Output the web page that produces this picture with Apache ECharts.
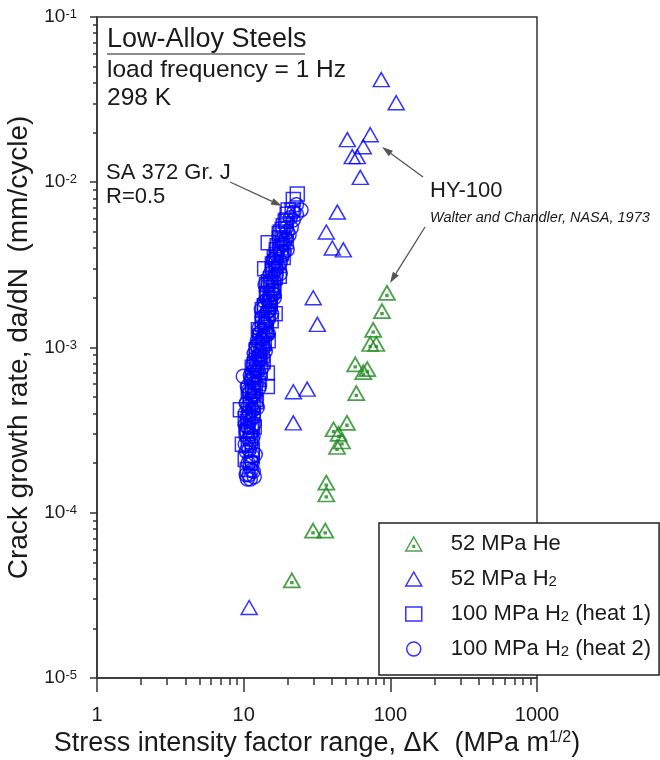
<!DOCTYPE html>
<html>
<head>
<meta charset="utf-8">
<script src="https://cdn.jsdelivr.net/npm/echarts@6/dist/echarts.min.js"></script>
<style>
  html, body { margin: 0; padding: 0; background: #fff; }
  #chart { width: 660px; height: 760px; }
</style>
</head>
<body>
<div id="chart"></div>
<script>
/* ΔK (MPa m^1/2), da/dN (mm/cycle) */
const he52 = [
  [94.8, 0.00214], [87.7, 0.00166], [76.4, 0.00128], [72.9, 0.00105], [80.2, 0.00105],
  [57.6, 0.00079], [65.4, 0.00071], [69.6, 0.00074], [58.6, 0.00053], [50.6, 0.00035],
  [41.0, 0.00032], [44.4, 0.00030], [46.8, 0.00027], [43.3, 0.00025], [36.6, 0.000152],
  [36.6, 0.000129], [29.7, 0.000078], [36.0, 0.000078], [21.3, 0.000039]
];
const h2_52 = [
  [86.7, 0.0418], [109.7, 0.0303], [50.9, 0.0181], [72.9, 0.0194], [65.4, 0.0164],
  [55.0, 0.0143], [59.5, 0.0143], [62.4, 0.0107], [43.5, 0.0066], [36.6, 0.0050],
  [40.2, 0.0040], [47.8, 0.0039], [29.8, 0.0020], [31.8, 0.00138], [21.8, 0.00054],
  [27.1, 0.00056], [21.8, 0.00035], [10.9, 0.0000267]
];
const h2_100_heat1 = [
  [23.2, 0.0085], [21.8, 0.00785], [20.1, 0.0068], [21.4, 0.0068], [19.8, 0.0064],
  [19.2, 0.0058], [18.3, 0.0052], [17.5, 0.0046], [14.7, 0.0043], [17.8, 0.0040],
  [16.7, 0.00365], [16.4, 0.0033], [13.9, 0.0030], [15.9, 0.0029], [15.2, 0.0026],
  [15.4, 0.0023], [14.3, 0.0021], [15.0, 0.0019], [13.9, 0.00175], [16.4, 0.0016],
  [14.3, 0.00152], [13.4, 0.00138], [14.0, 0.00125], [12.8, 0.00115], [13.4, 0.00104],
  [12.2, 0.00095], [12.8, 0.00087], [11.8, 0.00079], [14.5, 0.00070], [11.45, 0.00066],
  [14.5, 0.00058], [12.0, 0.00056], [11.1, 0.00051], [11.6, 0.00045], [9.5, 0.00042],
  [10.75, 0.00038], [11.45, 0.00034], [10.4, 0.00031], [11.1, 0.00028], [9.8, 0.00026],
  [19.5, 0.0059], [17.8, 0.0050], [18.9, 0.0046], [16.7, 0.0039], [18.6, 0.0035],
  [15.7, 0.0032], [17.5, 0.0027], [14.3, 0.0024], [16.1, 0.0022], [15.2, 0.00195],
  [13.4, 0.0017], [15.4, 0.00145], [12.6, 0.00128], [14.7, 0.00110], [12.2, 0.00097],
  [13.6, 0.00082], [11.45, 0.00076], [12.8, 0.00064], [10.75, 0.00055], [12.2, 0.00047],
  [10.25, 0.00037], [11.8, 0.00033], [10.6, 0.00030], [11.45, 0.00024], [10.25, 0.00021],
  [11.1, 0.00020],
  [18.62, 0.00546], [17.49, 0.00489], [19.52, 0.00437], [16.94, 0.00413], [18.05, 0.00370],
  [16.17, 0.00350], [17.49, 0.00313], [15.67, 0.00296], [16.42, 0.00265], [14.72, 0.00250],
  [15.92, 0.00230], [14.49, 0.00212], [15.18, 0.00184], [13.82, 0.00179], [14.72, 0.00160],
  [13.39, 0.00148], [14.26, 0.00128], [12.98, 0.00118], [13.82, 0.00106], [12.58, 0.000999],
  [13.39, 0.000893], [12.38, 0.000799], [12.98, 0.000715], [11.81, 0.000676], [12.58, 0.000605],
  [11.45, 0.000541], [12.0, 0.000484], [11.09, 0.000445], [11.63, 0.000398], [10.58, 0.000356],
  [11.27, 0.000319], [10.75, 0.000255], [11.45, 0.000222], [10.58, 0.000183]
];
const h2_100_heat2 = [
  [24.6, 0.0068], [22.9, 0.0073], [22.9, 0.0064], [21.8, 0.0059], [21.1, 0.0053],
  [20.4, 0.0048], [19.5, 0.0045], [18.9, 0.0042], [19.8, 0.0039], [18.3, 0.0036],
  [17.8, 0.0033], [17.2, 0.0031], [16.7, 0.00276], [16.1, 0.0025], [15.7, 0.00224],
  [15.4, 0.0020], [15.2, 0.00182], [14.7, 0.00165], [14.7, 0.00148], [14.3, 0.00133],
  [13.6, 0.00118], [13.4, 0.00106], [13.0, 0.00097], [12.6, 0.00089], [12.2, 0.00082],
  [12.0, 0.00075], [11.45, 0.00071], [9.94, 0.00067], [11.3, 0.00062], [11.45, 0.00057],
  [10.9, 0.00053], [11.1, 0.00048], [10.75, 0.00044], [10.9, 0.00039], [11.1, 0.00036],
  [10.6, 0.00033], [11.1, 0.00030], [10.75, 0.00028], [11.3, 0.00026], [10.9, 0.00024],
  [11.45, 0.00022], [10.75, 0.00020], [11.3, 0.00018], [10.9, 0.00017], [11.1, 0.00016],
  [12.0, 0.000225], [10.25, 0.00034],
  [14.0, 0.0024], [16.0, 0.0021], [14.8, 0.0019], [13.2, 0.0017], [15.5, 0.0016],
  [13.8, 0.0014], [12.7, 0.0013], [14.5, 0.0012], [12.4, 0.0011], [13.8, 0.00100],
  [11.8, 0.00092], [13.0, 0.00085], [11.6, 0.00078], [12.6, 0.00072], [11.2, 0.00064],
  [12.2, 0.00060], [10.8, 0.00055], [11.8, 0.00050], [10.5, 0.00046], [11.6, 0.00042],
  [22.0, 0.0066], [20.8, 0.0061], [19.5, 0.0053], [18.3, 0.0045], [17.5, 0.0040],
  [16.9, 0.0036], [15.9, 0.0034], [16.7, 0.0030], [15.2, 0.0028], [14.7, 0.0024],
  [15.9, 0.0021], [13.9, 0.0019], [14.5, 0.00165], [13.4, 0.00152], [14.0, 0.00136],
  [12.8, 0.00121], [13.4, 0.00112], [12.2, 0.00103], [13.0, 0.00090], [11.8, 0.00085],
  [12.4, 0.00074], [11.1, 0.00068], [11.8, 0.00061], [10.6, 0.00058], [11.6, 0.00052],
  [10.4, 0.00046], [11.45, 0.00042], [10.25, 0.00040], [11.6, 0.00038], [10.4, 0.00031],
  [11.6, 0.00029], [10.25, 0.00026], [11.45, 0.00020], [10.4, 0.00017], [11.8, 0.000165],
  [10.6, 0.00016],
  [19.83, 0.00502], [18.33, 0.00425], [18.92, 0.00380], [16.68, 0.00331], [17.77, 0.00280],
  [15.43, 0.00257], [16.17, 0.00200], [14.49, 0.00195], [15.18, 0.00170], [14.04, 0.00140],
  [14.72, 0.00121], [13.39, 0.00112], [14.04, 0.000945], [12.78, 0.000845], [13.39, 0.000756],
  [12.19, 0.000715], [12.78, 0.000572], [11.63, 0.000512], [12.38, 0.000433], [10.92, 0.000409],
  [11.81, 0.000346], [10.75, 0.000328], [11.45, 0.000277], [10.41, 0.000235], [11.27, 0.000204],
  [11.63, 0.000178]
];

const xTicks = [1, 10, 100, 1000];
const yTicks = [1e-5, 1e-4, 1e-3, 1e-2, 1e-1];
const minorSteps = [2, 3, 4, 5, 6, 7, 8, 9];

const FONT = '"Liberation Sans", Arial, sans-serif';
const INK = '#1a1a1a';
const BLUE = '#0000ff';
const GREEN = '#1e8a1e';

// minor ticks between the decades
const xMinor = [];
xTicks.slice(0, -1).forEach(d => minorSteps.forEach(m => xMinor.push(d * m)));
const yMinor = [];
yTicks.slice(0, -1).forEach(d => minorSteps.forEach(m => yMinor.push(+(d * m).toPrecision(3))));

const lineStyle = { color: '#333', width: 1.5 };

/* 箭头：线 + 实心箭头 */
function arrow(x1, y1, x2, y2) {
  const a = Math.atan2(y2 - y1, x2 - x1);
  const len = 11, half = 3.5;
  const bx = x2 - len * Math.cos(a), by = y2 - len * Math.sin(a);
  const px = -Math.sin(a) * half, py = Math.cos(a) * half;
  return [
    { type: 'line', shape: { x1: x1, y1: y1, x2: bx, y2: by }, style: { stroke: '#555', lineWidth: 1.3 }, z: 10 },
    { type: 'polygon', shape: { points: [[x2, y2], [bx + px, by + py], [bx - px, by - py]] }, style: { fill: '#555' }, z: 10 }
  ];
}

function label(text, x, y, size, extra) {
  return Object.assign({
    type: 'text', x: x, y: y, z: 10,
    style: { text: text, font: size + 'px ' + FONT, fill: INK, verticalAlign: 'middle', align: 'left' }
  }, extra || {});
}

const chart = echarts.init(document.getElementById('chart'), null, { renderer: 'canvas' });

const hollow = c => ({ color: 'rgba(0,0,0,0)', borderColor: c, borderWidth: 1.5 });

chart.setOption({
  animation: false,
  backgroundColor: '#fff',
  textStyle: { fontFamily: FONT },
  grid: {
    left: 97, top: 17, width: 440, height: 661,
    containLabel: false, outerBoundsMode: 'none',
    show: true, borderColor: '#333', borderWidth: 1.5
  },
  xAxis: [{
    type: 'log', logBase: 10, min: 1, max: 1000, position: 'bottom',
    axisLine: { lineStyle: lineStyle },
    axisTick: { length: 14, customValues: xTicks, lineStyle: lineStyle },
    axisLabel: {
      customValues: xTicks, margin: 27, fontSize: 20, color: INK, fontFamily: FONT,
      formatter: v => String(Math.round(v))
    },
    splitLine: { show: false },
    name: 'Stress intensity factor range, \u0394K  (MPa m{sup|1/2})',
    nameLocation: 'middle', nameGap: 52,
    nameTextStyle: {
      fontSize: 27, color: INK, fontFamily: FONT, lineHeight: 28,
      rich: { sup: { fontSize: 16, lineHeight: 10, verticalAlign: 'top', color: INK, fontFamily: FONT } }
    }
  }, {
    type: 'log', logBase: 10, min: 1, max: 1000, position: 'bottom',
    axisLine: { show: false },
    axisTick: { length: 7, customValues: xMinor, lineStyle: lineStyle },
    axisLabel: { show: false },
    splitLine: { show: false }
  }],
  yAxis: [{
    type: 'log', logBase: 10, min: 1e-5, max: 1e-1, position: 'left',
    axisLine: { lineStyle: lineStyle },
    axisTick: { length: 7, customValues: yTicks, lineStyle: lineStyle },
    axisLabel: {
      customValues: yTicks, margin: 20, fontSize: 19, color: INK, fontFamily: FONT, lineHeight: 18,
      formatter: v => '10{sup|' + Math.round(Math.log10(v)) + '}',
      rich: { sup: { fontSize: 13, lineHeight: 8, verticalAlign: 'top', color: INK, fontFamily: FONT } }
    },
    splitLine: { show: false },
    name: 'Crack growth rate, da/dN  (mm/cycle)',
    nameLocation: 'middle', nameGap: 63,
    nameTextStyle: { fontSize: 28, color: INK, fontFamily: FONT }
  }, {
    type: 'log', logBase: 10, min: 1e-5, max: 1e-1, position: 'left',
    axisLine: { show: false },
    axisTick: { length: 4, customValues: yMinor, lineStyle: lineStyle },
    axisLabel: { show: false },
    splitLine: { show: false }
  }],
  legend: {
    orient: 'vertical', left: 379, top: 523,
    padding: [10, 8, 15, 26],
    itemWidth: 16, itemHeight: 14, itemGap: 13,
    backgroundColor: '#fff', borderColor: '#222', borderWidth: 1.5, borderRadius: 0,
    itemStyle: { borderWidth: 1.5 },
    formatter: name => name.replace('H2', 'H{sub|2}'),
    textStyle: {
      fontSize: 22, color: INK, fontFamily: FONT, lineHeight: 20, padding: [0, 0, 0, 24],
      rich: { sub: { fontSize: 15, lineHeight: 8, verticalAlign: 'bottom', color: INK, fontFamily: FONT } }
    },
    data: ['52 MPa He', '52 MPa H2', '100 MPa H2 (heat 1)', '100 MPa H2 (heat 2)']
  },
  series: [{
    name: '52 MPa He', type: 'scatter', data: he52,
    symbol: 'path://M8,0 L16,14 L0,14 Z M7.2,8.6 L8.8,8.6 L8.8,10.2 L7.2,10.2 Z',
    symbolSize: [16, 14], itemStyle: { color: 'rgba(0,0,0,0)', borderColor: GREEN, borderWidth: 1.8 }
  }, {
    name: '52 MPa H2', type: 'scatter', data: h2_52,
    symbol: 'triangle', symbolSize: [16, 14], itemStyle: hollow(BLUE)
  }, {
    name: '100 MPa H2 (heat 1)', type: 'scatter', data: h2_100_heat1,
    symbol: 'rect', symbolSize: 14, itemStyle: hollow(BLUE)
  }, {
    name: '100 MPa H2 (heat 2)', type: 'scatter', data: h2_100_heat2,
    symbol: 'circle', symbolSize: 14, itemStyle: hollow(BLUE)
  }],
  graphic: [
    label('Low-Alloy Steels', 107, 40, 27),
    { type: 'line', shape: { x1: 107, y1: 54, x2: 305, y2: 54 }, style: { stroke: INK, lineWidth: 1.2 }, z: 10 },
    label('load frequency = 1 Hz', 107, 70, 24.5),
    label('298 K', 107, 98, 24.5),
    label('SA 372 Gr. J', 106, 173, 22),
    label('R=0.5', 106, 197, 22),
    label('HY-100', 430, 191, 22),
    {
      type: 'text', x: 430, y: 218, z: 10,
      style: { text: 'Walter and Chandler, NASA, 1973', font: 'italic 14.5px ' + FONT, fill: INK, verticalAlign: 'middle' }
    }
  ].concat(arrow(230, 182, 282, 206), arrow(423, 177, 382, 147), arrow(425, 227, 390, 283))
});
</script>
</body>
</html>
